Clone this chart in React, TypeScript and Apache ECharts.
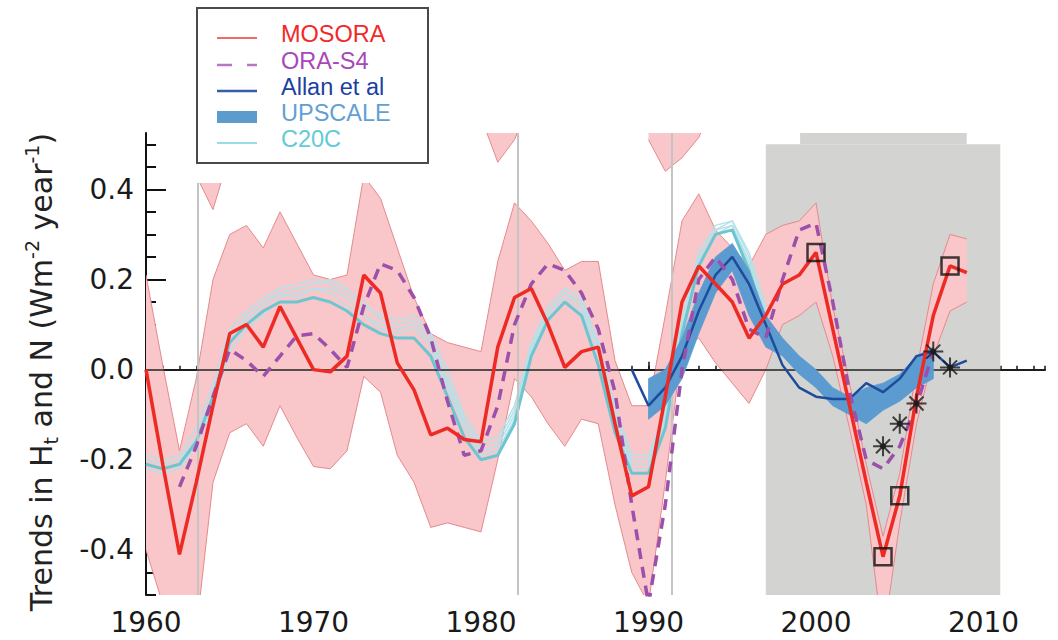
import React, { useEffect, useRef } from "react";
import * as echarts from "echarts";

// ---------------- data ----------------
const MOSORA_START = 1960;
const MOSORA = [0.0, -0.21, -0.41, -0.25, -0.08, 0.08, 0.1, 0.05, 0.14, 0.07, 0.0, -0.005, 0.03, 0.21, 0.17, 0.015, -0.045, -0.145, -0.13, -0.155, -0.16, 0.05, 0.16, 0.18, 0.1, 0.005, 0.04, 0.05, -0.12, -0.28, -0.26, -0.06, 0.15, 0.23, 0.19, 0.15, 0.07, 0.12, 0.19, 0.21, 0.26, 0.09, -0.08, -0.25, -0.415, -0.28, -0.06, 0.12, 0.23, 0.215];
const MOSORA_LOW = [-0.4, -0.52, -0.65, -0.58, -0.25, -0.14, -0.12, -0.17, -0.08, -0.15, -0.215, -0.22, -0.18, -0.015, -0.05, -0.19, -0.25, -0.35, -0.34, -0.35, -0.36, -0.2, -0.02, -0.06, -0.12, -0.17, -0.11, -0.12, -0.3, -0.45, -0.52, -0.25, 0.05, 0.07, 0.015, -0.03, -0.075, 0.0, 0.1, 0.12, 0.15, 0.03, -0.13, -0.3, -0.6, -0.34, -0.12, 0.03, 0.13, 0.15];
const MOSORA_HIGH = [0.21, 0.01, -0.18, -0.02, 0.2, 0.3, 0.32, 0.27, 0.35, 0.28, 0.21, 0.2, 0.21, 0.43, 0.38, 0.27, 0.16, 0.08, 0.06, 0.05, 0.04, 0.24, 0.37, 0.33, 0.28, 0.22, 0.24, 0.24, 0.02, -0.08, -0.08, 0.12, 0.33, 0.39, 0.31, 0.27, 0.23, 0.3, 0.32, 0.33, 0.37, 0.14, -0.03, -0.21, -0.37, -0.23, 0.0, 0.19, 0.3, 0.29];

// pieces of the MOSORA spread that reach above the top of the plot
const SPIKE1_YEARS = [1963, 1964, 1965];
const SPIKE1_LOW = [0.43, 0.355, 0.48];
const SPIKE2_YEARS = [1980, 1981, 1982, 1983];
const SPIKE2_LOW = [0.56, 0.46, 0.51, 0.6];
const SPIKE3_YEARS = [1990, 1991, 1992, 1993, 1994];
const SPIKE3_LOW = [0.51, 0.44, 0.47, 0.515, 0.6];
const SPIKE_TOP = 0.9;

const ORAS4_START = 1962;
const ORAS4 = [-0.26, -0.17, -0.06, 0.045, 0.02, -0.015, 0.03, 0.075, 0.08, 0.045, 0.005, 0.14, 0.235, 0.22, 0.16, 0.07, -0.07, -0.19, -0.18, -0.08, 0.1, 0.19, 0.235, 0.22, 0.17, 0.09, -0.05, -0.3, -0.52, -0.3, 0.0, 0.2, 0.25, 0.2, 0.09, 0.07, 0.2, 0.31, 0.325, 0.15, -0.05, -0.2, -0.22, -0.17, -0.08, 0.04];

const ALLAN_START = 1989;
const ALLAN = [0.0, -0.08, -0.04, 0.03, 0.13, 0.21, 0.25, 0.19, 0.1, 0.01, -0.04, -0.06, -0.065, -0.065, -0.03, -0.05, -0.02, 0.03, 0.04, 0.005, 0.02];

const UPSCALE_START = 1990;
const UPSCALE_LOW = [-0.11, -0.08, -0.02, 0.08, 0.17, 0.22, 0.12, 0.05, 0.03, -0.01, -0.04, -0.08, -0.1, -0.12, -0.09, -0.07, -0.04, -0.02];
const UPSCALE_HIGH = [-0.02, 0.0, 0.07, 0.17, 0.25, 0.28, 0.22, 0.12, 0.07, 0.03, 0.0, -0.04, -0.06, -0.04, -0.03, -0.01, 0.03, 0.05];

const C20C_START = 1960;
const C20C_MEAN = [-0.21, -0.22, -0.21, -0.16, -0.06, 0.06, 0.1, 0.13, 0.15, 0.15, 0.16, 0.15, 0.13, 0.1, 0.08, 0.07, 0.07, 0.03, -0.06, -0.15, -0.2, -0.19, -0.12, 0.03, 0.11, 0.15, 0.12, 0.01, -0.14, -0.23, -0.23, -0.13, 0.08, 0.23, 0.3, 0.31, 0.22, 0.1];
const C20C_RUN1 = [-0.19, -0.2, -0.19, -0.13, -0.03, 0.09, 0.13, 0.16, 0.18, 0.19, 0.2, 0.19, 0.17, 0.14, 0.12, 0.11, 0.12, 0.08, 0.0, -0.1, -0.16, -0.15, -0.08, 0.06, 0.14, 0.18, 0.16, 0.06, -0.08, -0.19, -0.19, -0.09, 0.11, 0.26, 0.32, 0.33, 0.26, 0.14];
const C20C_RUN2 = [-0.22, -0.23, -0.22, -0.17, -0.08, 0.04, 0.09, 0.12, 0.16, 0.17, 0.18, 0.17, 0.14, 0.12, 0.1, 0.09, 0.1, 0.06, -0.03, -0.12, -0.18, -0.17, -0.1, 0.05, 0.13, 0.17, 0.14, 0.04, -0.11, -0.21, -0.21, -0.11, 0.1, 0.25, 0.31, 0.32, 0.24, 0.12];
const C20C_RUN3 = [-0.2, -0.21, -0.2, -0.15, -0.05, 0.07, 0.12, 0.15, 0.17, 0.16, 0.18, 0.18, 0.16, 0.12, 0.09, 0.08, 0.09, 0.05, -0.04, -0.13, -0.19, -0.18, -0.11, 0.04, 0.12, 0.16, 0.13, 0.02, -0.12, -0.22, -0.22, -0.12, 0.09, 0.24, 0.3, 0.32, 0.23, 0.11];
const C20C_RUN4 = [-0.21, -0.22, -0.21, -0.16, -0.06, 0.06, 0.11, 0.14, 0.17, 0.18, 0.19, 0.2, 0.18, 0.15, 0.11, 0.1, 0.11, 0.07, -0.02, -0.11, -0.17, -0.16, -0.09, 0.05, 0.13, 0.17, 0.15, 0.05, -0.1, -0.2, -0.2, -0.1, 0.1, 0.25, 0.31, 0.33, 0.25, 0.13];

const SQUARE_YEARS = [2000, 2004, 2005, 2008];
const SQUARE_VALUES = [0.26, -0.415, -0.28, 0.23];
const STAR_YEARS = [2004, 2005, 2006, 2007, 2008];
const STAR_VALUES = [-0.17, -0.12, -0.075, 0.04, 0.005];

const VOLCANO_YEARS = [1963.1, 1982.2, 1991.4];
const SHADE_FROM = 1997;
const SHADE_TO = 2011;
const SHADE_TOP = 0.5;
const NOTCH_FROM = 1999.05;
const NOTCH_TO = 2009.0;

const X_MIN = 1960;
const X_MAX = 2013.67;
const X_LABEL_MAX = 2010;
const Y_MIN = -0.5;
const Y_MAX = 0.525;
const Y_LABEL_MIN = -0.4;
const Y_LABEL_MAX = 0.4;

const LEGEND_NAMES = ["MOSORA", "ORA-S4", "Allan et al", "UPSCALE", "C20C"];

// ---------------- layout ----------------
const W = 1058;
const H = 640;
const L = 146;
const R = 1045;
const T = 133;
const B = 595;
const FONT = "DejaVu Sans";
const LEGEND_FONT = "Liberation Sans";

const px = (x: number) => L + ((x - X_MIN) / (X_MAX - X_MIN)) * (R - L);
const py = (y: number) => B - ((y - Y_MIN) / (Y_MAX - Y_MIN)) * (B - T);

const pairs = (start: number, vals: number[]) => vals.map((v, i) => [start + i, v]);
const pairsX = (xs: number[], vals: number[]) => vals.map((v, i) => [xs[i], v]);
const bandRows = (xs: number[], lo: number[], hi: number[]) => lo.map((v, i) => [xs[i], v, hi[i]]);
const yearsFrom = (start: number, n: number) => Array.from({ length: n }, (_, i) => start + i);

const PINK_FILL = "#f9c6c9";
const PINK_EDGE = "#e58a8d";

function bandCustom(rows: number[][], fill: string, edge: string | null, edgeWidth: number, z: number) {
  return {
    type: "custom",
    data: rows,
    encode: { x: 0, y: [1, 2] },
    clip: true,
    z,
    silent: true,
    renderItem: (params: any, api: any) => {
      if (params.dataIndex !== 0) return null;
      const up = rows.map((r) => api.coord([r[0], r[2]]));
      const lo = rows.map((r) => api.coord([r[0], r[1]]));
      const cs = params.coordSys;
      const children: any[] = [
        { type: "polygon", shape: { points: up.concat(lo.slice().reverse()) }, style: { fill, stroke: edge ? "none" : fill, lineWidth: edge ? 0 : 0.8 } },
      ];
      if (edge) {
        children.push({ type: "polyline", shape: { points: up }, style: { fill: "none", stroke: edge, lineWidth: edgeWidth } });
        children.push({ type: "polyline", shape: { points: lo }, style: { fill: "none", stroke: edge, lineWidth: edgeWidth } });
      }
      return {
        type: "group",
        clipPath: { type: "rect", shape: { x: cs.x, y: cs.y, width: cs.width, height: cs.height } },
        children,
      };
    },
  };
}

export default function App() {
  const ref = useRef<HTMLDivElement>(null);
  useEffect(() => {
    if (!ref.current) return;
    const chart = echarts.init(ref.current, undefined, { renderer: "svg" });

    const g1Top = py(Y_LABEL_MAX);
    const g1Bottom = py(Y_LABEL_MIN);
    const g2Top = py(SHADE_TOP);

    const series: any[] = [];
    // gray shading
    series.push({
      type: "line",
      data: [],
      z: 1,
      silent: true,
      markArea: {
        silent: true,
        itemStyle: { color: "#d3d3d1" },
        data: [
          [{ xAxis: SHADE_FROM, yAxis: Y_MIN }, { xAxis: SHADE_TO, yAxis: SHADE_TOP }],
          [{ xAxis: NOTCH_FROM, yAxis: SHADE_TOP }, { xAxis: NOTCH_TO, yAxis: Y_MAX }],
        ],
      },
    });
    // MOSORA spread
    series.push(bandCustom(bandRows(yearsFrom(MOSORA_START, MOSORA.length), MOSORA_LOW, MOSORA_HIGH), PINK_FILL, PINK_EDGE, 1, 2));
    series.push(bandCustom(bandRows(SPIKE1_YEARS, SPIKE1_LOW, SPIKE1_LOW.map(() => SPIKE_TOP)), PINK_FILL, PINK_EDGE, 1, 2));
    series.push(bandCustom(bandRows(SPIKE2_YEARS, SPIKE2_LOW, SPIKE2_LOW.map(() => SPIKE_TOP)), PINK_FILL, PINK_EDGE, 1, 2));
    series.push(bandCustom(bandRows(SPIKE3_YEARS, SPIKE3_LOW, SPIKE3_LOW.map(() => SPIKE_TOP)), PINK_FILL, PINK_EDGE, 1, 2));
    // volcano lines
    series.push({
      type: "line",
      data: [],
      z: 3,
      silent: true,
      markLine: {
        silent: true,
        symbol: ["none", "none"],
        label: { show: false },
        lineStyle: { color: "#c4c4c4", width: 2, type: "solid" },
        data: VOLCANO_YEARS.map((x) => ({ xAxis: x })),
      },
    });
    // C20C runs
    [C20C_RUN1, C20C_RUN2, C20C_RUN3, C20C_RUN4].forEach((run) => {
      series.push({
        type: "line",
        data: pairs(C20C_START, run),
        symbol: "none",
        lineStyle: { color: "#b5e1e8", width: 1.5 },
        z: 4,
        silent: true,
      });
    });
    series.push({
      type: "line",
      data: pairs(C20C_START, C20C_MEAN),
      symbol: "none",
      lineStyle: { color: "#6cc6d1", width: 3 },
      z: 4,
      silent: true,
    });
    // UPSCALE band
    series.push(bandCustom(bandRows(yearsFrom(UPSCALE_START, UPSCALE_LOW.length), UPSCALE_LOW, UPSCALE_HIGH), "#5b9bd0", null, 0, 5));
    // zero line
    series.push({
      type: "line",
      data: [],
      z: 5,
      silent: true,
      markLine: {
        silent: true,
        symbol: ["none", "none"],
        label: { show: false },
        lineStyle: { color: "#222", width: 1.5, type: "solid" },
        data: [{ yAxis: 0 }],
      },
    });
    // Allan et al
    series.push({
      type: "line",
      data: pairs(ALLAN_START, ALLAN),
      symbol: "none",
      lineStyle: { color: "#1f4b9c", width: 2.5 },
      z: 6,
      silent: true,
    });
    // ORA-S4
    series.push({
      type: "line",
      data: pairs(ORAS4_START, ORAS4),
      symbol: "none",
      lineStyle: { color: "#9c4fab", width: 3.5, type: [11, 8] },
      z: 7,
      silent: true,
    });
    // MOSORA
    series.push({
      type: "line",
      data: pairs(MOSORA_START, MOSORA),
      symbol: "none",
      lineStyle: { color: "#ee2a25", width: 3.5 },
      z: 8,
      silent: true,
    });
    // markers
    series.push({
      type: "scatter",
      data: pairsX(SQUARE_YEARS, SQUARE_VALUES),
      symbol: "rect",
      symbolSize: 17,
      itemStyle: { color: "rgba(0,0,0,0)", borderColor: "#111", borderWidth: 2.5 },
      z: 10,
      silent: true,
    });
    series.push({
      type: "scatter",
      data: pairsX(STAR_YEARS, STAR_VALUES),
      symbol: "path://M0,-10L0,10M-10,0L10,0M-7,-7L7,7M-7,7L7,-7",
      symbolSize: 20,
      itemStyle: { color: "rgba(0,0,0,0)", borderColor: "#1a1a1a", borderWidth: 2 },
      z: 10,
      silent: true,
    });
    series.push({
      type: "scatter",
      data: pairsX(STAR_YEARS, STAR_VALUES),
      symbol: "circle",
      symbolSize: 6,
      itemStyle: { color: "#1a1a1a" },
      z: 10,
      silent: true,
    });

    const legendRowsY = [38, 65, 91, 117, 143];
    const legendTextColors = ["#f2282a", "#a847b7", "#1d3f9f", "#62a0d4", "#62cbd6"];
    const legendGraphics: any[] = [
      { type: "rect", shape: { x: 190, y: 0, width: 285, height: 183 }, style: { fill: "#ffffff" }, z: 100, silent: true },
      { type: "rect", shape: { x: 197, y: 8, width: 231, height: 155 }, style: { fill: "#ffffff", stroke: "#4a4a4a", lineWidth: 2 }, z: 101, silent: true },
      { type: "line", shape: { x1: 217, y1: legendRowsY[0], x2: 257, y2: legendRowsY[0] }, style: { stroke: "#f06a66", lineWidth: 2 }, z: 102 },
      { type: "line", shape: { x1: 217, y1: legendRowsY[1], x2: 232, y2: legendRowsY[1] }, style: { stroke: "#b677c4", lineWidth: 2.5 }, z: 102 },
      { type: "line", shape: { x1: 247, y1: legendRowsY[1], x2: 257, y2: legendRowsY[1] }, style: { stroke: "#b677c4", lineWidth: 2.5 }, z: 102 },
      { type: "line", shape: { x1: 217, y1: legendRowsY[2], x2: 257, y2: legendRowsY[2] }, style: { stroke: "#3a5ca8", lineWidth: 2.5 }, z: 102 },
      { type: "rect", shape: { x: 217, y: legendRowsY[3] - 6, width: 40, height: 12 }, style: { fill: "#5e9bcd" }, z: 102 },
      { type: "line", shape: { x1: 217, y1: legendRowsY[4], x2: 257, y2: legendRowsY[4] }, style: { stroke: "#9cdbe4", lineWidth: 2 }, z: 102 },
    ];
    LEGEND_NAMES.forEach((name, i) => {
      legendGraphics.push({
        type: "text",
        x: 281,
        y: legendRowsY[i] - 4,
        z: 102,
        style: { text: name, fill: legendTextColors[i], fontSize: 23.5, lineHeight: 24, fontFamily: LEGEND_FONT, align: "left", verticalAlign: "middle" },
      });
    });
    legendGraphics.push({
      type: "text",
      x: 41,
      y: 372,
      rotation: Math.PI / 2,
      z: 102,
      style: {
        text: "{a|Trends in H}{b|t}{a| and N (Wm}{c|-2}{a| year}{c|-1}{a|)}",
        fill: "#222",
        fontFamily: FONT,
        fontSize: 30,
        align: "center",
        verticalAlign: "middle",
        rich: {
          a: { fontSize: 30, fontFamily: FONT, fill: "#222", lineHeight: 38 },
          b: { fontSize: 19, fontFamily: FONT, fill: "#222", lineHeight: 16, verticalAlign: "bottom" },
          c: { fontSize: 19, fontFamily: FONT, fill: "#222", lineHeight: 19, verticalAlign: "top" },
        },
      },
    });

    chart.setOption({
      animation: false,
      backgroundColor: "#ffffff",
      grid: [
        { left: L, top: T, width: R - L, height: B - T, containLabel: false },
        { left: L, top: g1Top, width: px(X_LABEL_MAX) - L, height: g1Bottom - g1Top, containLabel: false },
        { left: L, top: g2Top, width: R - L, height: B - g2Top, containLabel: false },
      ],
      xAxis: [
        {
          type: "value", gridIndex: 0, min: X_MIN, max: X_MAX, interval: 1, position: "bottom",
          axisLine: { show: true, lineStyle: { color: "#111", width: 2 } },
          axisTick: { show: true, inside: true, length: 4, lineStyle: { color: "#111", width: 1.5 } },
          axisLabel: { show: false }, splitLine: { show: false },
        },
        {
          type: "value", gridIndex: 1, min: X_MIN, max: X_LABEL_MAX, interval: 10, position: "bottom",
          offset: B - g1Bottom,
          axisLine: { show: false },
          axisTick: { show: true, inside: true, length: 8, lineStyle: { color: "#111", width: 1.5 } },
          axisLabel: { show: true, fontFamily: FONT, fontSize: 28, color: "#1a1a1a", margin: 13, formatter: (v: number) => String(v) },
          splitLine: { show: false },
        },
        { type: "value", gridIndex: 2, min: X_MIN, max: X_MAX, show: false },
      ],
      yAxis: [
        {
          type: "value", gridIndex: 0, min: Y_MIN, max: Y_MAX, position: "left",
          axisLine: { show: true, lineStyle: { color: "#111", width: 2 } },
          axisTick: { show: false }, axisLabel: { show: false }, splitLine: { show: false },
        },
        {
          type: "value", gridIndex: 1, min: Y_LABEL_MIN, max: Y_LABEL_MAX, interval: 0.2, position: "left",
          axisLine: { show: false },
          axisTick: { show: true, inside: true, length: 20, lineStyle: { color: "#111", width: 2 } },
          axisLabel: {
            show: true, fontFamily: FONT, fontSize: 28, color: "#1a1a1a", margin: 12,
            formatter: (v: number) => (Math.abs(v) < 1e-9 ? "0.0" : v.toFixed(1)),
          },
          splitLine: { show: false },
        },
        {
          type: "value", gridIndex: 2, min: Y_MIN, max: SHADE_TOP, interval: 0.05, position: "left",
          axisLine: { show: false },
          axisTick: { show: true, inside: true, length: 10, lineStyle: { color: "#111", width: 2 } },
          axisLabel: { show: false }, splitLine: { show: false },
        },
      ],
      graphic: legendGraphics,
      series: series.map((s) => ({ xAxisIndex: 0, yAxisIndex: 0, ...s })),
    });

    return () => chart.dispose();
  }, []);

  return <div ref={ref} style={{ position: "fixed", left: 0, top: 0, width: W, height: H, background: "#fff" }} />;
}
